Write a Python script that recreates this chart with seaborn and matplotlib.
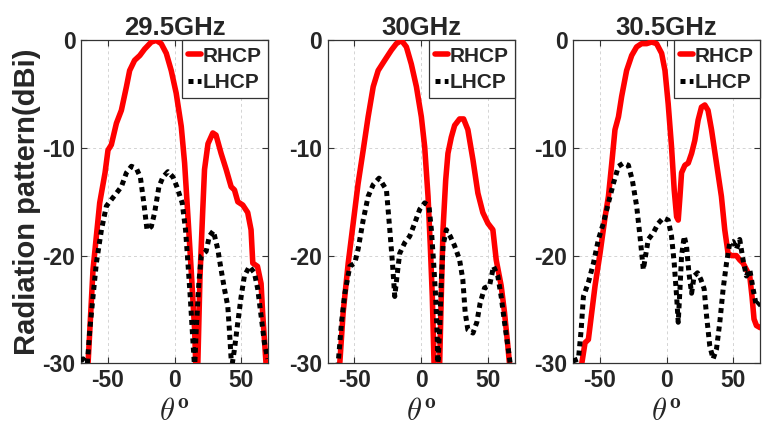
import numpy as np
import pandas as pd
import matplotlib
matplotlib.use("Agg")
import matplotlib.pyplot as plt
from matplotlib.lines import Line2D
import seaborn as sns

# ---- measured radiation patterns (theta in degrees, gain in dBi) ----
titles = ["29.5GHz", "30GHz", "30.5GHz"]
series_names = ["RHCP", "LHCP"]

theta_r1 = [-65.5, -64.7, -61, -56, -52, -49.8, -47.3, -43.5, -39.8, -36, -33.6, -29.9, -26, -22.4, -17.4,
            -13.7, -10, -6.2, -2.5, 1.2, 5, 7.5, 10, 12.4, 15, 16.3, 17.4, 19, 21, 22.4, 25, 28.6, 31,
            34.8, 38.6, 42.3, 44.8, 47.3, 51, 54.7, 57.2, 58.5, 62, 64.7, 65.9, 68.4, 69]
gain_r1 = [-32, -30, -21.3, -15.1, -12.3, -10.2, -9.7, -7.7, -6.5, -4.3, -2.8, -1.85, -1.4, -0.8, -0.15,
           0, -0.3, -1.2, -2.8, -4.9, -8, -11.4, -16.4, -21.3, -26.9, -32, -30, -22, -16, -12, -9.6, -8.6,
           -8.8, -10.5, -12, -13.6, -13.9, -15, -15.3, -16, -17.6, -20.7, -21, -22.6, -25.4, -30, -32]

theta_l1 = [-70, -68.4, -65.5, -63.4, -61, -58.5, -54.7, -51, -47.3, -43.5, -39.8, -36, -32.3, -28.6,
            -25.6, -23, -20.6, -17.4, -14.9, -11.7, -8.7, -5, -1.2, 1.7, 5.7, 8.2, 10, 11.7, 13.2, 15,
            16.2, 18.2, 20, 23.6, 26, 29, 32.3, 34.8, 37.3, 39.8, 41, 42.3, 43.2, 44.8, 47.3, 49.8, 52.2,
            56, 59.7, 62.2, 64.7, 67.2, 69.7]
gain_l1 = [-29.8, -29.6, -30.5, -26.9, -23.8, -20.7, -17.6, -15.4, -14.8, -14.2, -13.6, -12.3, -11.7,
           -11.9, -12.7, -15.1, -17.6, -17.3, -16, -13.6, -12.7, -12.2, -12.7, -13.6, -15.1, -17.6, -20.7,
           -23.8, -26.9, -30.5, -26.9, -22.5, -20, -19.6, -18.2, -17.7, -19.4, -21.3, -23.1, -24.7, -26.9,
           -29.6, -30, -28.7, -26.2, -23.8, -21.9, -21, -21.6, -23.1, -25.6, -28.1, -29.6]

theta_r2 = [-62, -61, -58.5, -54.7, -51, -47.3, -43.5, -39.8, -36, -32.3, -27.4, -22.4, -18.7, -14.9,
            -11.2, -7.5, -3.7, 0, 2.5, 5, 6.7, 8.2, 9.5, 10.5, 12.8, 13.7, 14.9, 16.2, 18.2, 19.9, 22.4,
            24.9, 28.6, 31.6, 34.8, 38.6, 42.3, 46, 49.8, 53.5, 56, 59.7, 62.2, 64.7, 65.9, 66.8]
gain_r2 = [-33, -30, -25.3, -20.7, -17, -13.3, -10.2, -7.1, -4.3, -2.8, -1.85, -0.9, -0.3, 0, -0.6,
           -2.2, -4.3, -7.1, -9.9, -14.5, -19.1, -23.8, -30, -33, -33, -30, -23.8, -17.6, -13, -10.5,
           -9, -7.9, -7.3, -7.3, -8.3, -11.1, -14.2, -16, -17, -17.6, -20.4, -22.8, -25.3, -28.4, -30, -33]

theta_l2 = [-63, -62.2, -59.7, -57.2, -53.5, -49.8, -47.3, -43.5, -39.8, -36, -31.6, -26.1, -23.6, -21.6,
            -19.9, -18.2, -16.2, -12.4, -8.7, -5, -1.2, 2.5, 5.7, 7.5, 9.2, 10.7, 11.7, 12.4, 13.7, 14.9,
            16.2, 18.7, 21.6, 24.9, 28.6, 31, 32.8, 34.8, 38.6, 41.5, 44, 47.3, 51, 54, 57.2, 59.7, 62.2,
            64.7, 66.4, 67]
gain_l2 = [-33, -30, -26.2, -23.5, -21, -20.7, -19.4, -16.7, -14.5, -13.4, -12.8, -13.9, -17.6, -20.7,
           -23.8, -21.9, -19.8, -18.8, -18.2, -17, -15.7, -15.1, -15.4, -17.6, -20.7, -23.8, -26.9, -30,
           -26.9, -22.5, -19.1, -17.6, -18.2, -19.1, -20.4, -22.2, -25.3, -26.9, -27.2, -26.2, -24.4,
           -23, -22.8, -21, -21.9, -23.8, -26.2, -28.4, -30, -31]

theta_r3 = [-64, -63.4, -61, -58.5, -56, -53.5, -49.8, -46, -43.5, -41, -38.6, -36, -33.6, -29.9, -26.1,
            -22.4, -18.7, -14.9, -11.2, -7.5, -3.7, -1.2, 1.2, 3.7, 5.7, 7.5, 8.7, 10, 11.2, 13.7, 16.2,
            18.7, 21.1, 23.6, 26.1, 28.6, 31, 33.6, 37.3, 41, 43.5, 46, 48.5, 52.2, 54.7, 57.2, 59.7,
            62.2, 63.9, 65.4, 67.2, 70]
gain_r3 = [-31, -30, -28.1, -27.8, -25.3, -22.8, -19.8, -16.4, -14.5, -11.4, -8.3, -7.1, -5.2, -2.8,
           -1.4, -0.6, -0.3, -0.3, -0.15, -0.3, -1.2, -2.8, -5.9, -9.9, -13.9, -16.4, -16.7, -14.5,
           -12.3, -11.6, -11.4, -10.5, -9.3, -7.4, -6.2, -6, -6.5, -8.3, -11.4, -14.5, -17.6, -19.8,
           -20, -20, -20.4, -20.7, -21.3, -21.9, -23.8, -25.9, -26.5, -26.7]

theta_l3 = [-70, -65.9, -63.9, -62.2, -58.5, -54.7, -51, -47.3, -43.5, -39.8, -36, -32.3, -28.6, -25.6,
            -22.4, -19.9, -17.4, -15.7, -13.7, -10, -6.2, -2.5, 1.2, 3.7, 5.7, 7.5, 8.7, 10, 11.2, 13.2,
            14.9, 16.7, 18.7, 20.6, 23.1, 25.6, 28.1, 29.9, 32.3, 34.8, 37.3, 39.8, 42.3, 44.8, 47.3,
            49.8, 52.2, 54.7, 57.2, 59.7, 62.2, 64.7, 67.2, 70]
gain_l3 = [-29.8, -29.6, -26.9, -23.8, -22.5, -20.7, -18.5, -17, -15.1, -13.3, -11.7, -11.4, -11.6, -13,
           -15.4, -18.2, -21.3, -20, -18.5, -17.9, -17, -16.5, -16.7, -18.2, -20.7, -23.8, -26.2, -23.1,
           -20, -18.2, -19.1, -21.6, -23.5, -21.9, -21.6, -22.2, -23.1, -25.6, -28.4, -29.6, -28.7,
           -26.2, -23.1, -20.7, -18.8, -18.7, -19.4, -18.5, -20.4, -21.9, -21.3, -23.1, -24.7, -24.4]

theta_rhcp = [theta_r1, theta_r2, theta_r3]
gain_rhcp = [gain_r1, gain_r2, gain_r3]
theta_lhcp = [theta_l1, theta_l2, theta_l3]
gain_lhcp = [gain_l1, gain_l2, gain_l3]

xticks = [-50, 0, 50]
yticks = [0, -10, -20, -30]

# ---- style ----
sns.set_style("white")
plt.rcParams.update({
    "font.family": ["Liberation Sans", "DejaVu Sans"],
    "font.weight": "bold",
    "mathtext.fontset": "cm",
})

fig = plt.figure(figsize=(7.64, 4.44), dpi=100)
lefts = [0.106, 0.429, 0.750]
width, bottom, height = 0.245, 0.182, 0.727

red = "#ff0000"
red_lw = 4.0
dot_lw = 3.6
dot_style = (0, (1.0, 0.85))

for i in range(3):
    ax = fig.add_axes([lefts[i], bottom, width, height])
    df_r = pd.DataFrame({"theta": theta_rhcp[i], "gain": gain_rhcp[i]})
    df_l = pd.DataFrame({"theta": theta_lhcp[i], "gain": gain_lhcp[i]})
    sns.lineplot(data=df_r, x="theta", y="gain", ax=ax, color=red, linewidth=red_lw,
                 estimator=None, sort=False, solid_joinstyle="round", zorder=3)
    sns.lineplot(data=df_l, x="theta", y="gain", ax=ax, color="black", linewidth=dot_lw,
                 linestyle=dot_style, estimator=None, sort=False, dash_capstyle="butt", zorder=4)

    ax.set_xlim(-70, 70)
    ax.set_ylim(-30, 0)
    ax.set_xticks(xticks)
    ax.set_yticks(yticks)
    ax.set_xticklabels([str(t) for t in xticks], fontsize=16.5, fontweight="bold")
    ax.set_yticklabels([str(t) for t in yticks], fontsize=16.5, fontweight="bold")
    ax.grid(True, color="#d4d4d4", linestyle=(0, (3, 3)), linewidth=0.7)
    ax.set_axisbelow(True)
    ax.tick_params(direction="in", length=4, width=0.8, color="#333333",
                   top=True, right=True, bottom=True, left=True, pad=4)
    for sp in ax.spines.values():
        sp.set_visible(True)
        sp.set_color("#333333")
        sp.set_linewidth(0.9)

    ax.set_title(titles[i], fontsize=18.5, fontweight="bold", pad=4)
    ax.set_xlabel(r"$\theta^{\mathbf{o}}$", fontsize=22, labelpad=4)
    if i == 0:
        ax.set_ylabel("Radiation pattern(dBi)", fontsize=21, fontweight="bold", labelpad=1)
    else:
        ax.set_ylabel("")

    handles = [Line2D([], [], color=red, linewidth=red_lw),
               Line2D([], [], color="black", linewidth=dot_lw, linestyle=dot_style)]
    leg = ax.legend(handles, series_names, loc="upper right", borderaxespad=0,
                    handlelength=0.6, handletextpad=0.1, borderpad=0.3, labelspacing=0.35,
                    fancybox=False, framealpha=1, edgecolor="#333333",
                    prop={"weight": "bold", "size": 15})
    leg.get_frame().set_linewidth(0.9)

fig.savefig("out.png", dpi=100)
